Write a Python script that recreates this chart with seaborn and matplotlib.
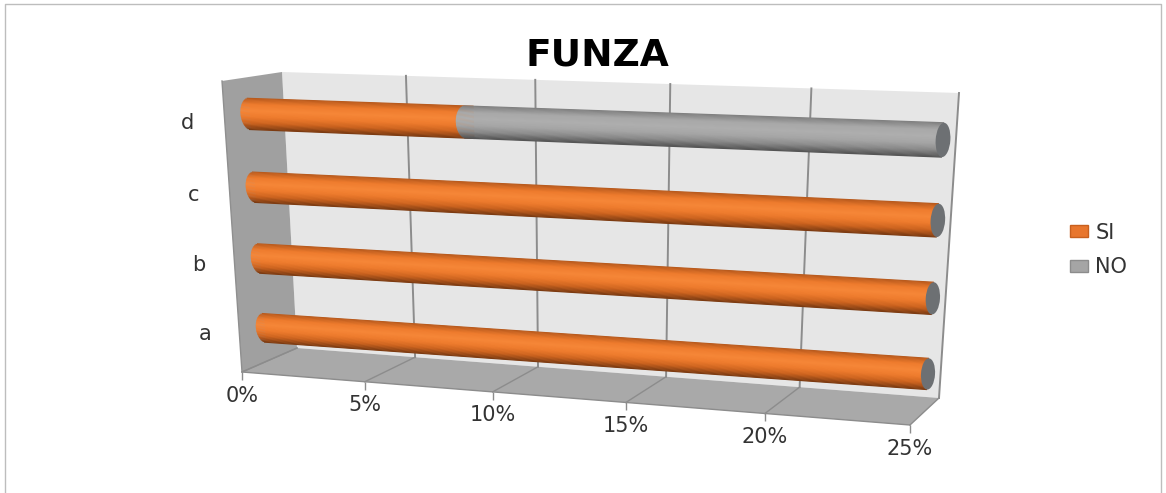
import numpy as np
import matplotlib
matplotlib.use('Agg')
import matplotlib.pyplot as plt
import seaborn as sns
from matplotlib.patches import Ellipse, Patch, Polygon, Rectangle
from matplotlib.transforms import Transform

cats = ['a', 'b', 'c', 'd']
si = [25, 25, 25, 8.33]
no = [0, 0, 0, 16.67]
value_ticks = [0, 5, 10, 15, 20, 25]

ORANGE = ['#b85a1d', '#ee7b2d', '#f68738', '#ee7b2d', '#cc631f', '#7c3b12']
GREY = ['#808080', '#a8a8a8', '#aeaeae', '#a6a6a6', '#8a8a8a', '#555555']


# ── perspective of the fake 3D box ─────────────────
class Quad(Transform):
    input_dims = 2
    output_dims = 2
    is_separable = False

    def __init__(self, src, dst):
        super().__init__()
        rows, rhs = [], []
        for (x, y), (u, v) in zip(src, dst):
            rows.append([x, y, 1, 0, 0, 0, -u * x, -u * y])
            rows.append([0, 0, 0, x, y, 1, -v * x, -v * y])
            rhs += [u, v]
        self.m = np.append(np.linalg.solve(rows, rhs), 1).reshape(3, 3)

    def transform_non_affine(self, values):
        pts = np.c_[values, np.ones(len(values))] @ self.m.T
        return pts[:, :2] / pts[:, 2:]


def quad(x0, x1, y0, y1, bl, br, tr, tl):
    return Quad([(x0, y0), (x1, y0), (x1, y1), (x0, y1)], [bl, br, tr, tl])


xmax = value_ticks[-1]
wall = quad(0, xmax, 0, 1, (297, 348), (939, 398), (959, 93), (282, 72))
# front edge of the floor, same foreshortening as the wall
front = quad(0, xmax, 0, 1, (242, 372), (910, 425), (910, 314), (242, 272))
bars = quad(0, xmax, 0, 3, (265, 328), (928, 374), (943, 140), (250, 114))

fig = plt.figure(figsize=(11.66, 4.93), dpi=100)
ax = fig.add_axes([0, 0, 1, 1])

# ── bars, drawn by seaborn in (value, category) space ──
total = [a + b for a, b in zip(si, no)]
sns.barplot(x=total, y=cats, order=cats, orient='h', color=GREY[2], saturation=1, width=0.42, ax=ax)
sns.barplot(x=si, y=cats, order=cats, orient='h', color=ORANGE[2], saturation=1, width=0.42, ax=ax)
for p in ax.patches:
    p.set_transform(bars + ax.transData)
    p.set_zorder(3)


# cylinder shading: thin slices along the bar
def shade(pos, start, end, stops, z):
    n = 40
    colours = sns.blend_palette(stops, n_colors=n)
    h = 0.43 / n
    for i, c in enumerate(colours):
        t = (i + 0.5) / n * 2 - 1
        y = pos + 0.215 - (i + 0.5) * h
        r = 0.38 * np.sqrt(max(1 - t * t, 0))
        ax.barh(y, end - start + r, left=start - r, height=h * 1.5, color=c, linewidth=0,
                transform=bars + ax.transData, zorder=z + i * 0.001)


for i in range(len(cats)):
    shade(i, 0, si[i] + (0.3 if no[i] else 0), ORANGE, 4)
    if no[i]:
        shade(i, si[i], total[i], GREY, 5)
    cap = Ellipse((total[i], i), 0.48, 0.42, facecolor='#6d7073', edgecolor='none',
                  transform=bars + ax.transData, zorder=6)
    ax.add_patch(cap)

# ── box walls, floor and grid ──────────────────────
ax.add_patch(Rectangle((0, 0), xmax, 1, facecolor='#e6e6e6', edgecolor='none',
                       transform=wall + ax.transData, zorder=1))
ax.add_patch(Polygon([(242, 372), (910, 425), (939, 398), (297, 348)], facecolor='#a9a9a9',
                     edgecolor='none', zorder=1))
ax.add_patch(Polygon([(222, 81), (282, 72), (297, 348), (242, 372)], facecolor='#a0a0a0',
                     edgecolor='none', zorder=1))
ax.plot([222, 242, 297], [81, 372, 348], color='#8f8f8f', lw=1, zorder=2)

for v in value_ticks[1:]:
    ax.plot([v, v], [0, 1], color='#8c8c8c', lw=1.4, transform=wall + ax.transData, zorder=2)
for v in value_ticks:
    (bx, by), (fx, fy) = wall.transform([(v, 0)])[0], front.transform([(v, 0)])[0]
    ax.plot([bx, fx], [by, fy], color='#8c8c8c', lw=1, zorder=2)
    ax.plot([fx], [fy], marker=3, ms=6, mew=1, color='#8c8c8c', zorder=2)
    ax.annotate(f'{v}%', xy=(fx, fy), xytext=(0, -17), textcoords='offset points',
                ha='center', va='center', fontsize=15, color='#333333')
ax.plot([0, xmax], [0, 0], color='#8c8c8c', lw=1, transform=front + ax.transData, zorder=2)

for i, c in enumerate(cats):
    ax.text(-2.55, i - 0.15, c, transform=bars + ax.transData, ha='center', va='center',
            fontsize=15, color='#333333')

# ── title, legend, chart border ────────────────────
ax.text(597, 55, 'FUNZA', ha='center', va='center', fontsize=27, fontweight='bold', color='black')
ax.legend(handles=[Patch(facecolor='#e8762d', edgecolor='#c8601e', label='SI'),
                   Patch(facecolor='#a5a5a5', edgecolor='#8c8c8c', label='NO')],
          loc='center left', bbox_to_anchor=(1070 / 1166, 1 - 250 / 493), frameon=False,
          fontsize=15, handlelength=0.87, handleheight=0.5, handletextpad=0.35,
          labelspacing=0.7, labelcolor='#333333', borderpad=0, borderaxespad=0)
ax.plot([5, 5, 1161, 1161], [493, 4, 4, 493], color='#bdbdbd', lw=1, zorder=0)

ax.set_xlim(0, 1166)
ax.set_ylim(493, 0)
ax.set_axis_off()
fig.savefig('out.png', dpi=100)
